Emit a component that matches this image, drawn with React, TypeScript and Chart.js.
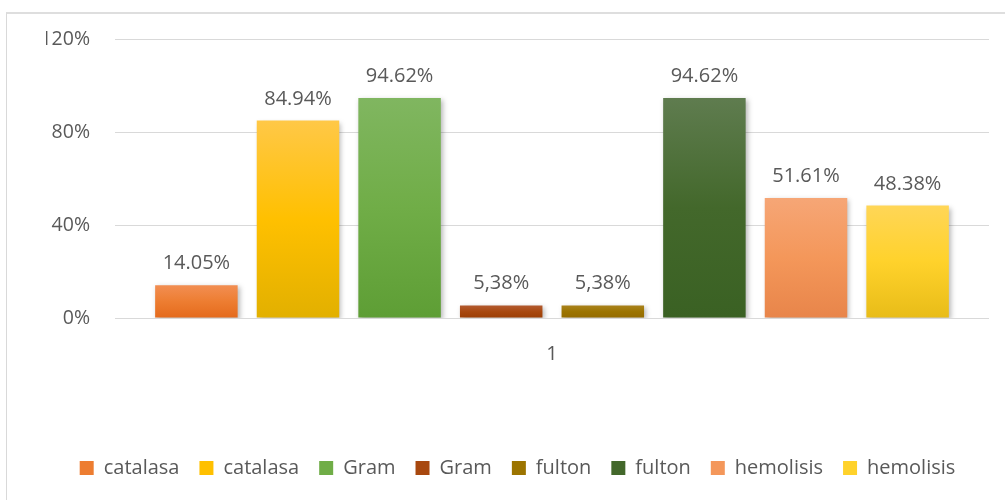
import React, { useEffect, useRef } from "react";
import { Chart, registerables } from "chart.js";

Chart.register(...registerables);

const categories = ["1"];
const seriesNames = ["catalasa", "catalasa", "Gram", "Gram", "fulton", "fulton", "hemolisis", "hemolisis"];
const seriesValues = [14.05, 84.94, 94.62, 5.38, 5.38, 94.62, 51.61, 48.38];
const valueLabels = ["14.05%", "84.94%", "94.62%", "5,38%", "5,38%", "94.62%", "51.61%", "48.38%"];
const yTickValues = [0, 40, 80, 120];

const topColors = ["#F28E52", "#FFC847", "#80B660", "#B25A30", "#A9821C", "#5F7C4F", "#F6A676", "#FFD657"];
const midColors = ["#ED7D31", "#FFC000", "#70AD47", "#A8480F", "#9C7400", "#43682B", "#F4975A", "#FFD22B"];
const bottomColors = ["#E46A1C", "#E2B000", "#5E9E35", "#9B3E05", "#946B00", "#3A6123", "#E8854A", "#E8BC18"];

const FONT = "'Open Sans', sans-serif";
const TEXT = "#595959";

export default function App() {
  const canvasRef = useRef<HTMLCanvasElement | null>(null);

  useEffect(() => {
    const canvas = canvasRef.current;
    if (!canvas) return;

    const shadowAndLabels = {
      id: "shadowAndLabels",
      beforeDatasetsDraw(chart: any) {
        const c = chart.ctx;
        c.save();
        c.shadowColor = "rgba(0,0,0,0.28)";
        c.shadowBlur = 5;
        c.shadowOffsetX = 2;
        c.shadowOffsetY = 2;
      },
      afterDatasetsDraw(chart: any) {
        const c = chart.ctx;
        c.restore();
        c.save();
        c.font = `20px ${FONT}`;
        c.fillStyle = TEXT;
        c.textAlign = "center";
        c.textBaseline = "alphabetic";
        chart.data.datasets.forEach((ds: any, i: number) => {
          const meta = chart.getDatasetMeta(i);
          meta.data.forEach((el: any) => {
            c.fillText(valueLabels[i], el.x, el.y - 16);
          });
        });
        c.restore();
      },
    };

    const datasets = seriesNames.map((name, i) => ({
      label: name,
      data: [seriesValues[i]],
      backgroundColor: (ctx: any) => {
        const chart = ctx.chart;
        const yScale = chart.scales && chart.scales.y;
        if (!chart.chartArea || !yScale || ctx.raw === undefined) return midColors[i];
        const top = yScale.getPixelForValue(ctx.raw);
        const base = yScale.getPixelForValue(0);
        if (!isFinite(top) || !isFinite(base) || top === base) return midColors[i];
        const g = chart.ctx.createLinearGradient(0, top, 0, base);
        g.addColorStop(0, topColors[i]);
        g.addColorStop(0.5, midColors[i]);
        g.addColorStop(1, bottomColors[i]);
        return g;
      },
      borderWidth: 0,
      barPercentage: 0.812,
      categoryPercentage: 0.93,
    }));

    const chart = new Chart(canvas, {
      type: "bar",
      data: { labels: categories, datasets },
      options: {
        animation: false,
        responsive: false,
        maintainAspectRatio: false,
        layout: { padding: { top: 39, left: 46, right: 16, bottom: 12 } },
        font: { family: FONT },
        plugins: {
          tooltip: { enabled: false },
          legend: {
            position: "bottom",
            align: "center",
            labels: {
              color: TEXT,
              font: { family: FONT, size: 20 },
              boxWidth: 14,
              boxHeight: 14,
              padding: 20,
              generateLabels: (ch: any) =>
                ch.data.datasets.map((ds: any, i: number) => ({
                  text: ds.label,
                  fillStyle: midColors[i],
                  strokeStyle: "rgba(0,0,0,0)",
                  lineWidth: 0,
                  fontColor: TEXT,
                  hidden: false,
                  datasetIndex: i,
                })),
            },
          },
        },
        scales: {
          x: {
            grid: { display: false },
            border: { display: false },
            ticks: {
              color: TEXT,
              font: { family: FONT, size: 20 },
              padding: 16,
            },
            afterFit: (scale: any) => {
              scale.height = 120;
            },
          },
          y: {
            min: 0,
            max: 120,
            afterBuildTicks: (scale: any) => {
              scale.ticks = yTickValues.map((v) => ({ value: v }));
            },
            grid: { color: "#D9D9D9", lineWidth: 1, drawTicks: false },
            border: { display: false },
            ticks: {
              color: TEXT,
              font: { family: FONT, size: 19.5 },
              padding: 25,
              callback: (v: any) => `${v}%`,
            },
            afterFit: (scale: any) => {
              scale.width = 69;
            },
          },
        },
      },
      plugins: [shadowAndLabels],
    });

    return () => {
      chart.destroy();
    };
  }, []);

  return (
    <div
      style={{
        position: "absolute",
        left: 0,
        top: 0,
        width: 1005,
        height: 500,
        overflow: "hidden",
        background: "#ffffff",
      }}
    >
      <div
        style={{
          position: "absolute",
          left: 6,
          top: 12,
          width: 1100,
          height: 600,
          borderLeft: "1px solid #D9D9D9",
          borderTop: "2px solid #DEDEDE",
        }}
      />
      <canvas
        ref={canvasRef}
        width={1005}
        height={500}
        style={{ position: "absolute", left: 0, top: 0, width: 1005, height: 500 }}
      />
    </div>
  );
}
